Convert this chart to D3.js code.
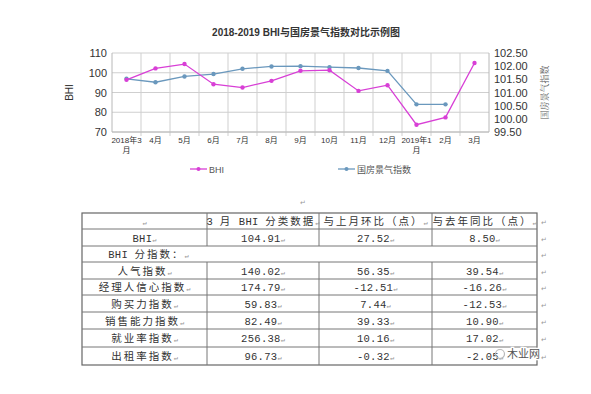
<!DOCTYPE html>
<html>
<head>
<meta charset="utf-8">
<script src="https://cdn.jsdelivr.net/npm/d3@7"></script>
<style>
  body { margin: 0; background: #fff; }
  svg { display: block; }
</style>
</head>
<body>
<div id="chart"></div>
<script>
// chart data
const months = ["2018年3月", "4月", "5月", "6月", "7月", "8月", "9月", "10月", "11月", "12月", "2019年1月", "2月", "3月"];
const bhiValues = [96.41, 102.2, 104.4, 94.2, 92.5, 95.9, 101.0, 101.3, 90.8, 93.7, 73.7, 77.39, 104.91];
const climateValues = [101.52, 101.39, 101.61, 101.70, 101.90, 101.99, 102.00, 101.96, 101.93, 101.82, 100.55, 100.55, null];
const leftTicks = [70, 80, 90, 100, 110];
const rightTicks = [99.5, 100, 100.5, 101, 101.5, 102, 102.5];

// table data
const tableHeader = ["", "3 月 BHI 分类数据", "与上月环比（点）", "与去年同比（点）"];
const rowNames = ["BHI", "BHI 分指数：", "人气指数", "经理人信心指数", "购买力指数", "销售能力指数", "就业率指数", "出租率指数"];
const marchValues = ["104.91", null, "140.02", "174.79", "59.83", "82.49", "256.38", "96.73"];
const momValues = ["27.52", null, "56.35", "-12.51", "7.44", "39.33", "10.16", "-0.32"];
const yoyValues = ["8.50", null, "39.54", "-16.26", "-12.53", "10.90", "17.02", "-2.05"];

const W = 591, H = 394;
const svg = d3.select("#chart").append("svg")
    .attr("width", W)
    .attr("height", H);

const latin = "'Liberation Sans', 'Noto Sans CJK SC', sans-serif";
const plot = {left: 112, right: 489, top: 53, bottom: 132};
const bhiColor = "#d83fd6";
const climateColor = "#6a98bd";

// title
svg.append("text")
    .attr("x", 306).attr("y", 36)
    .attr("text-anchor", "middle")
    .attr("font-family", latin)
    .attr("font-size", 10)
    .attr("font-weight", "bold")
    .attr("fill", "#333")
    .text("2018-2019 BHI与国房景气指数对比示例图");

const x = d3.scaleBand()
    .domain(months)
    .range([plot.left, plot.right]);

const yLeft = d3.scaleLinear()
    .domain([70, 110])
    .range([plot.bottom, plot.top]);

const yRight = d3.scaleLinear()
    .domain([99.5, 102.5])
    .range([plot.bottom, plot.top]);

// grid lines
const grid = svg.append("g");
grid.selectAll(".hgrid")
    .data(leftTicks)
    .enter()
    .append("line")
    .attr("x1", plot.left).attr("x2", plot.right)
    .attr("y1", d => yLeft(d)).attr("y2", d => yLeft(d))
    .attr("stroke", "#cfcfcf");
grid.selectAll(".vgrid")
    .data(months.slice(1))
    .enter()
    .append("line")
    .attr("x1", d => x(d)).attr("x2", d => x(d))
    .attr("y1", plot.top).attr("y2", plot.bottom + 4)
    .attr("stroke", "#cfcfcf");

// frame
[[plot.left, plot.left, plot.top, plot.bottom],
 [plot.right, plot.right, plot.top, plot.bottom],
 [plot.left, plot.right, plot.bottom, plot.bottom]].forEach(([x1, x2, y1, y2]) => {
    svg.append("line")
        .attr("x1", x1).attr("x2", x2)
        .attr("y1", y1).attr("y2", y2)
        .attr("stroke", "#b8b8b8");
});

// left axis labels
svg.append("g").selectAll("text")
    .data(leftTicks)
    .enter()
    .append("text")
    .attr("x", plot.left - 5)
    .attr("y", d => yLeft(d) + 4)
    .attr("text-anchor", "end")
    .attr("font-family", latin)
    .attr("font-size", 11)
    .attr("fill", "#333")
    .text(d => d);

// right axis labels
svg.append("g").selectAll("text")
    .data(rightTicks)
    .enter()
    .append("text")
    .attr("x", plot.right + 5)
    .attr("y", d => yRight(d) + 4)
    .attr("font-family", latin)
    .attr("font-size", 11)
    .attr("fill", "#333")
    .text(d => d3.format(".2f")(d));

// axis titles
svg.append("text")
    .attr("transform", "translate(73," + (plot.top + plot.bottom) / 2 + ") rotate(-90)")
    .attr("text-anchor", "middle")
    .attr("font-family", latin)
    .attr("font-size", 10)
    .attr("fill", "#333")
    .text("BHI");
svg.append("text")
    .attr("transform", "translate(548," + (plot.top + plot.bottom) / 2 + ") rotate(-90)")
    .attr("text-anchor", "middle")
    .attr("font-family", "'Noto Serif CJK SC', 'Noto Sans CJK SC', serif")
    .attr("font-size", 9)
    .attr("fill", "#555")
    .text("国房景气指数");

// x labels
const xLabels = svg.append("g").selectAll("text")
    .data(months)
    .enter()
    .append("text")
    .attr("text-anchor", "middle")
    .attr("font-family", latin)
    .attr("font-size", 8)
    .attr("fill", "#333");
xLabels.each(function(d) {
    const t = d3.select(this);
    const cx = x(d) + x.bandwidth() / 2;
    if (d.length > 3) {
        t.append("tspan").attr("x", cx).attr("y", plot.bottom + 11).text(d.slice(0, -1));
        t.append("tspan").attr("x", cx).attr("y", plot.bottom + 21).text("月");
    } else {
        t.append("tspan").attr("x", cx).attr("y", plot.bottom + 11).text(d);
    }
});

// series
function drawSeries(values, scale, color) {
    const pts = months.map((m, i) => ({m: m, v: values[i]}));
    svg.append("path")
        .datum(pts)
        .attr("fill", "none")
        .attr("stroke", color)
        .attr("stroke-width", 1.3)
        .attr("d", d3.line()
            .defined(d => d.v != null)
            .x(d => x(d.m) + x.bandwidth() / 2)
            .y(d => scale(d.v))
        );
    svg.append("g").selectAll("circle")
        .data(pts.filter(d => d.v != null))
        .enter()
        .append("circle")
        .attr("cx", d => x(d.m) + x.bandwidth() / 2)
        .attr("cy", d => scale(d.v))
        .attr("r", 2.2)
        .attr("fill", color);
}
drawSeries(climateValues, yRight, climateColor);
drawSeries(bhiValues, yLeft, bhiColor);

// legend
const legendItems = [
    {label: "BHI", color: bhiColor, x: 190},
    {label: "国房景气指数", color: climateColor, x: 338}
];
const legend = svg.append("g").selectAll("g")
    .data(legendItems)
    .enter()
    .append("g")
    .attr("transform", d => "translate(" + d.x + ",169)");
legend.append("line")
    .attr("x1", 0).attr("x2", 17)
    .attr("stroke", d => d.color)
    .attr("stroke-width", 1.3);
legend.append("circle")
    .attr("cx", 8.5).attr("r", 2)
    .attr("fill", d => d.color);
legend.append("text")
    .attr("x", 19).attr("y", 3.5)
    .attr("font-family", latin)
    .attr("font-size", 9)
    .attr("fill", "#555")
    .text(d => d.label);

// table
const tableFont = "'Liberation Mono', 'Noto Sans CJK SC', monospace";
const colEdges = [82, 207, 319, 432, 537];
const rowEdges = [213, 229, 246, 262, 279, 295, 312, 329, 347, 365];
const markColor = "#999";
const cjk = /[\u3000-\u9fff\uff00-\uffef]/;

const table = svg.append("g");

// split text into runs so only the wide characters get extra spacing
function runs(txt) {
    const out = [];
    for (const ch of txt) {
        const wide = cjk.test(ch);
        if (out.length && out[out.length - 1].wide === wide) {
            out[out.length - 1].s += ch;
        } else {
            out.push({s: ch, wide: wide});
        }
    }
    return out;
}

function cellText(cx, cy, txt) {
    const t = table.append("text")
        .attr("x", cx).attr("y", cy + 4)
        .attr("text-anchor", "middle")
        .attr("font-family", tableFont)
        .attr("font-size", 10.5)
        .attr("fill", "#333")
        .attr("xml:space", "preserve")
        .style("white-space", "pre");
    runs(txt).forEach(r => {
        t.append("tspan")
            .attr("letter-spacing", r.wide ? 2 : 0.3)
            .text(r.s);
    });
    t.append("tspan").attr("font-size", 7).attr("fill", markColor).text("↵");
    return t;
}

// borders
table.append("rect")
    .attr("x", colEdges[0]).attr("y", rowEdges[0])
    .attr("width", colEdges[4] - colEdges[0])
    .attr("height", rowEdges[rowEdges.length - 1] - rowEdges[0])
    .attr("fill", "none")
    .attr("stroke", "#666")
    .attr("stroke-width", 1.2);
rowEdges.slice(1, -1).forEach(yy => {
    table.append("line")
        .attr("x1", colEdges[0]).attr("x2", colEdges[4])
        .attr("y1", yy).attr("y2", yy)
        .attr("stroke", "#777");
});
colEdges.slice(1, -1).forEach(xx => {
    [[0, 2], [3, rowEdges.length - 1]].forEach(([a, b]) => {
        table.append("line")
            .attr("x1", xx).attr("x2", xx)
            .attr("y1", rowEdges[a]).attr("y2", rowEdges[b])
            .attr("stroke", "#777");
    });
});

// header row
const mid = i => (rowEdges[i] + rowEdges[i + 1]) / 2;
tableHeader.forEach((h, c) => {
    cellText((colEdges[c] + colEdges[c + 1]) / 2, mid(0), h);
});

// body rows
rowNames.forEach((name, r) => {
    const cy = mid(r + 1);
    cellText((colEdges[0] + colEdges[1]) / 2 + (marchValues[r] == null ? 4 : 0), cy, name);
    [marchValues, momValues, yoyValues].forEach((vals, c) => {
        if (vals[r] != null) {
            cellText((colEdges[c + 1] + colEdges[c + 2]) / 2, cy, vals[r]);
        }
    });
});

// paragraph marks outside the table
table.append("text")
    .attr("x", 300).attr("y", 205)
    .attr("font-size", 7).attr("fill", markColor)
    .text("↵");
rowEdges.slice(0, -1).forEach((yy, i) => {
    table.append("text")
        .attr("x", 541).attr("y", mid(i) + 4)
        .attr("font-size", 7).attr("fill", markColor)
        .text("↵");
});

// watermark
const wm = svg.append("g").attr("transform", "translate(496,358)");
wm.append("circle")
    .attr("cx", 4).attr("cy", -4).attr("r", 4.5)
    .attr("fill", "none")
    .attr("stroke", "#bbb")
    .attr("stroke-width", 1.2);
wm.append("text")
    .attr("x", 11).attr("y", 0)
    .attr("font-family", "'Noto Sans CJK SC', sans-serif")
    .attr("font-size", 11)
    .attr("fill", "#555")
    .attr("stroke", "#fff")
    .attr("stroke-width", 2.5)
    .attr("paint-order", "stroke")
    .text("木业网");
</script>
</body>
</html>
